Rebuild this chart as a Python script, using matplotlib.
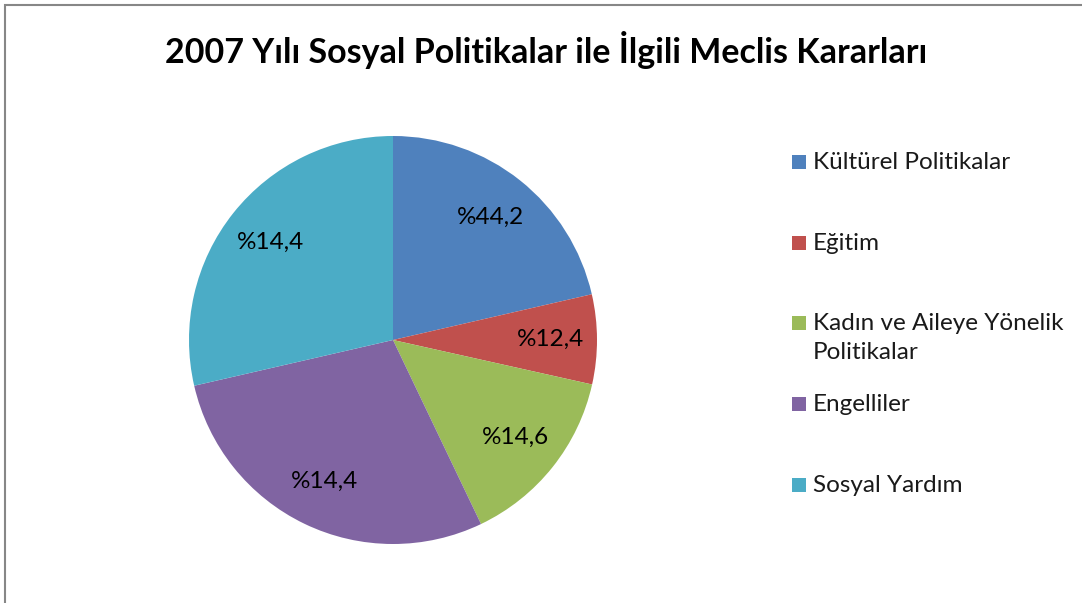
import numpy as np
import matplotlib.pyplot as plt
from matplotlib.patches import Rectangle

# Slice sizes as drawn (degrees, turned into shares)
categories = ["Kültürel Politikalar", "Eğitim", "Kadın ve Aileye Yönelik\nPolitikalar",
              "Engelliler", "Sosyal Yardım"]
shares = [21.4, 7.1, 14.4, 28.5, 28.6]
# Labels printed on the slices (as they appear in the original)
label_texts = ["%44,2", "%12,4", "%14,6", "%14,4", "%14,4"]
colors = ["#4F81BD", "#C0504D", "#9BBB59", "#8064A2", "#4BACC6"]

W, H = 1082, 603
plt.rcParams["font.family"] = ["Lato", "DejaVu Sans"]

fig = plt.figure(figsize=(W / 100, H / 100), dpi=100)
fig.patch.set_facecolor("white")

# pie axes: centre (393, 340) px, radius 204 px
r = 204
ax = fig.add_axes([(393 - r) / W, (H - 340 - r) / H, 2 * r / W, 2 * r / H])
wedges, _ = ax.pie(shares, colors=colors, startangle=90, counterclock=False,
                   radius=1, wedgeprops=dict(linewidth=0))
ax.set_xlim(-1, 1)
ax.set_ylim(-1, 1)
ax.set_aspect("equal")
ax.axis("off")

# data labels at the middle of each wedge
for w, txt in zip(wedges, label_texts):
    mid = np.deg2rad((w.theta1 + w.theta2) / 2)
    ax.text(0.77 * np.cos(mid), 0.77 * np.sin(mid), txt,
            ha="center", va="center", fontsize=17.5, color="black")

# title
fig.text(546 / W, 1 - 50 / H, "2007 Yılı Sosyal Politikalar ile İlgili Meclis Kararları",
         ha="center", va="center", fontsize=24.5, fontweight="bold", color="black")

# legend drawn by hand to keep Excel-like spacing
leg_y = [162, 243, 323, 404, 485]
for y, name, c in zip(leg_y, categories, colors):
    fig.add_artist(Rectangle((792 / W, 1 - (y + 7) / H), 14 / W, 14 / H,
                             transform=fig.transFigure, facecolor=c, edgecolor="none"))
    fig.text(813 / W, 1 - (y - 10) / H, name, ha="left", va="top", fontsize=17.5,
             color="#1a1a1a", linespacing=1.45)

# chart border (only left and top are visible in the crop)
fig.add_artist(Rectangle((5 / W, -0.1), 2, (H - 5) / H + 0.1, transform=fig.transFigure,
                         fill=False, edgecolor="#878787", linewidth=1.5))

fig.savefig("out.png", dpi=100)
